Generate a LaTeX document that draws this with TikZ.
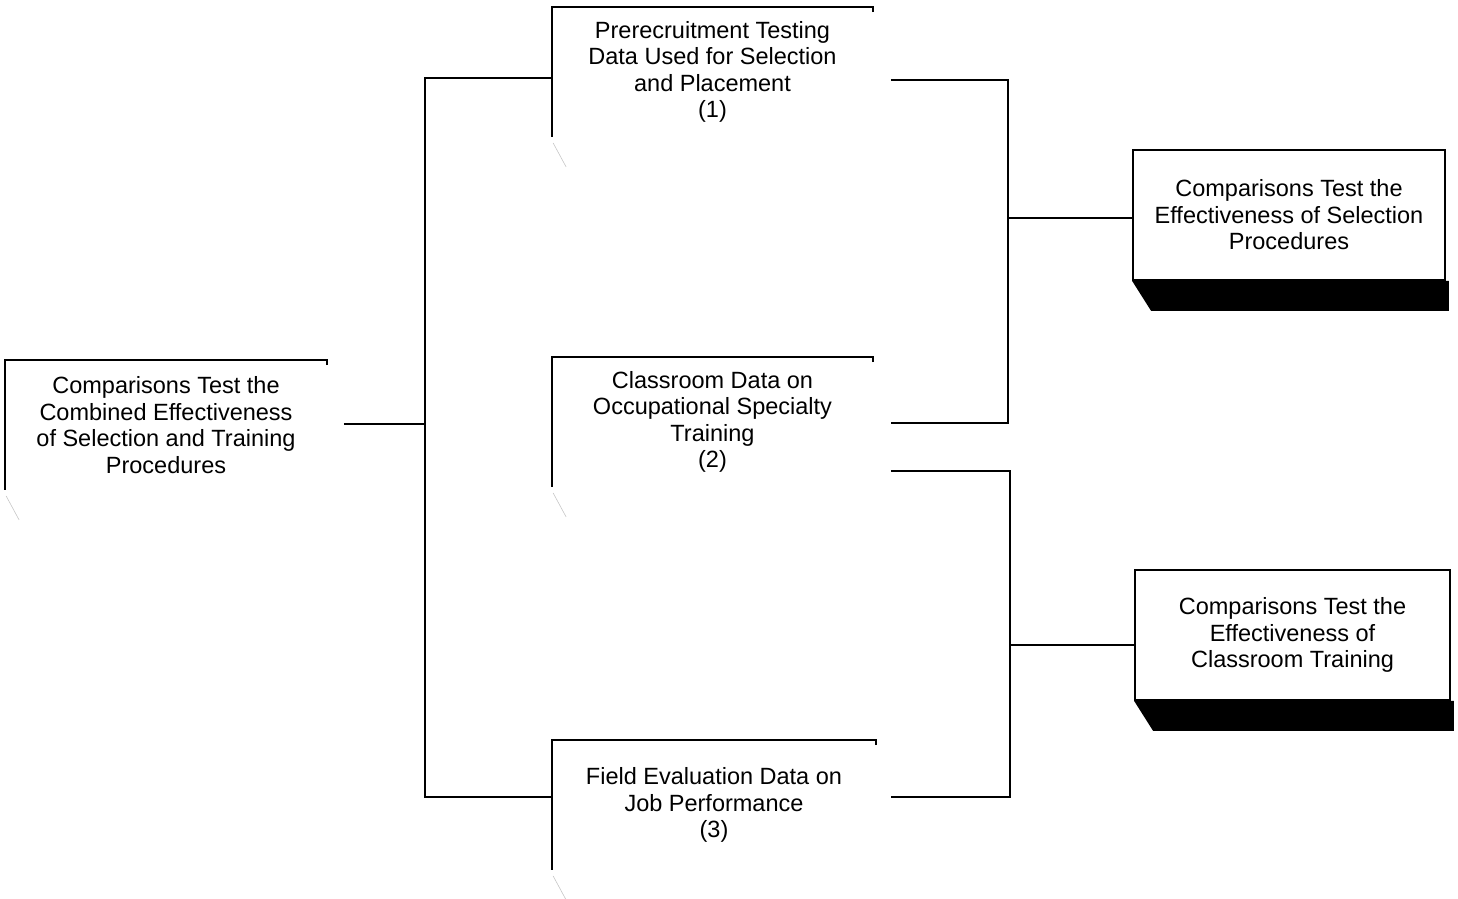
\documentclass[tikz,border=0pt]{standalone}
\usepackage{fontspec}
\setmainfont{Liberation Sans}
\usetikzlibrary{calc}
\begin{document}
\begin{tikzpicture}[x=1pt,y=-1pt,line width=1.8pt,
  txt/.style={align=center,font=\fontsize{23.5}{26.5}\selectfont,inner sep=0pt},
  openbox/.style={txt,minimum width=#1,minimum height=128pt},
  solidbox/.style={txt,draw,fill=white,minimum width=#1,minimum height=130pt},
  faint/.style={gray!45,line width=0.6pt}]
\useasboundingbox (0,0) rectangle (1458,898);

% open-framed boxes
\node[openbox=320pt] (L) at (166,425) {Comparisons Test the\\Combined Effectiveness\\of Selection and Training\\Procedures};
\node[openbox=319pt] (b1) at (712.5,72) {Prerecruitment Testing\\Data Used for Selection\\and Placement\\(1)};
\node[openbox=319pt] (b2) at (712.5,422) {Classroom Data on\\Occupational Specialty\\Training\\(2)};
\node[openbox=322pt] (b3) at (714,805) {Field Evaluation Data on\\Job Performance\\(3)};

\foreach \n in {L,b1,b2,b3}{
  \draw ($(\n.north east)+(0,5)$) -- (\n.north east) -- (\n.north west) -- (\n.south west);
  \draw[faint] ($(\n.south west)+(1,6)$) -- ++(13,24);
}

% solid boxes with shadow
\node[solidbox=312pt] (R1) at (1289,215) {Comparisons Test the\\Effectiveness of Selection\\Procedures};
\node[solidbox=315pt] (R2) at (1292.5,635) {Comparisons Test the\\Effectiveness of\\Classroom Training};
\foreach \n in {R1,R2}{
  \fill (\n.south west) -- ++(19,30) -- ($(\n.south east)+(3,30)$) -- ($(\n.south east)+(3,0)$) -- cycle;
}

% left spine
\coordinate (spT) at (425,78);
\coordinate (spM) at (425,424);
\coordinate (spB) at (425,797);
\draw (spT -| b1.west) -- (spT) -- (spB) -- (spB -| b3.west);
\draw ([xshift=17pt]L.east |- spM) -- (spM);

% right bracket 1
\coordinate (r1T) at (1008,80);
\coordinate (r1M) at (1008,218);
\coordinate (r1B) at (1008,423);
\draw ([xshift=18pt]b1.east |- r1T) -- (r1T) -- (r1B) -- ([xshift=18pt]b2.east |- r1B);
\draw (r1M) -- (R1.west |- r1M);

% right bracket 2
\coordinate (r2T) at (1010,471);
\coordinate (r2M) at (1010,645);
\coordinate (r2B) at (1010,797);
\draw ([xshift=18pt]b2.east |- r2T) -- (r2T) -- (r2B) -- ([xshift=15pt]b3.east |- r2B);
\draw (r2M) -- (R2.west |- r2M);
\end{tikzpicture}
\end{document}
